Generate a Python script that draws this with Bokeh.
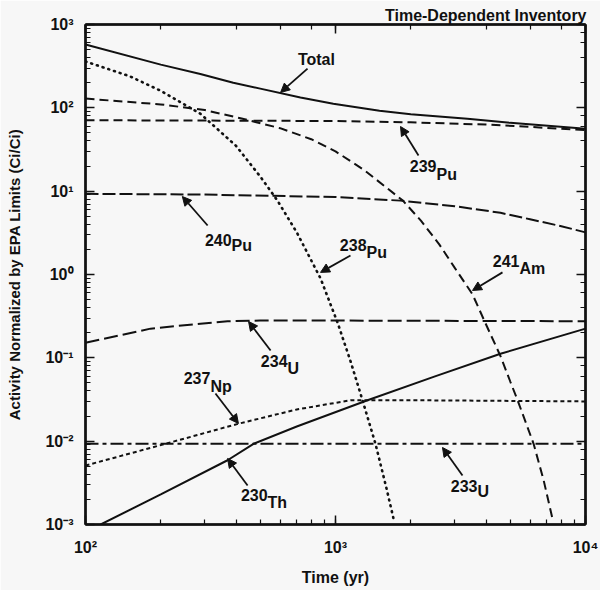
from bokeh.plotting import figure
from bokeh.models import LogAxis, Arrow, NormalHead, Label, CustomJSTickFormatter, Range1d
from bokeh.embed import file_html
from bokeh.resources import INLINE

# ---- data ----
total_t = [100, 200, 288, 390, 500, 724, 980, 1500, 2000, 3370, 5000, 10000]
total_v = [575, 330, 255, 200, 170, 133, 112, 92, 84, 74, 66, 56]

pu239_t = [100, 1000, 2000, 4000, 6000, 10000]
pu239_v = [71, 69.5, 67, 63, 59, 54]

am241_t = [100, 200, 300, 417, 600, 800, 1000, 1300, 1600, 1860, 2200, 2600, 3000, 3530, 3980, 4570, 5000, 5350, 6200, 6800, 7380]
am241_v = [129, 110, 94, 75, 57, 42, 30, 18, 11, 7.7, 4.4, 2.3, 1.2, 0.58, 0.26, 0.105, 0.052, 0.031, 0.0093, 0.0034, 0.00117]

pu238_t = [100, 150, 200, 288, 400, 500, 586, 700, 871, 1019, 1150, 1282, 1445, 1600, 1707]
pu238_v = [360, 240, 160, 85, 35, 15, 7.7, 3.2, 0.9, 0.265, 0.09, 0.031, 0.0093, 0.0027, 0.00117]

pu240_t = [100, 300, 1000, 1820, 3000, 4570, 6000, 8000, 10000]
pu240_v = [9.3, 9.1, 8.5, 7.7, 6.6, 5.5, 4.6, 3.8, 3.2]

u234_t = [100, 182, 288, 370, 500, 1000, 10000]
u234_v = [0.152, 0.224, 0.257, 0.275, 0.28, 0.28, 0.275]

np237_t = [100, 182, 409, 700, 1150, 2000, 10000]
np237_v = [0.0051, 0.0083, 0.0162, 0.024, 0.031, 0.031, 0.030]

u233_t = [100, 10000]
u233_v = [0.0093, 0.0093]

th230_t = [115, 200, 370, 470, 700, 1343, 2500, 4570, 10000]
th230_v = [0.001, 0.0023, 0.0059, 0.0093, 0.015, 0.031, 0.06, 0.112, 0.224]

FONT = "Liberation Sans"
INK = "#111111"
BG = "#f7f7f7"
FS = "16px"

p = figure(width=600, height=590, x_axis_type="log", y_axis_type="log",
           x_range=Range1d(100, 1e4), y_range=Range1d(1e-3, 1e3),
           output_backend="svg", toolbar_location=None,
           min_border_left=85, min_border_right=15, min_border_top=24, min_border_bottom=66)
p.background_fill_color = BG
p.border_fill_color = BG
p.outline_line_color = INK
p.outline_line_width = 2
p.xgrid.visible = False
p.ygrid.visible = False

p.title.text = "Time-Dependent Inventory"
p.title.align = "right"
p.title.text_font = FONT
p.title.text_font_style = "bold"
p.title.text_font_size = FS
p.title.text_color = INK
p.title.standoff = 1
p.title.offset = -1

fmt = CustomJSTickFormatter(code="""
const sup = {'0':'\u2070','1':'\u00b9','2':'\u00b2','3':'\u00b3','4':'\u2074','5':'\u2075','-':'\u207b'};
const e = Math.round(Math.log10(tick));
return '10' + String(e).split('').map(c => sup[c]).join('');
""")

p.add_layout(LogAxis(), "right")
p.add_layout(LogAxis(), "above")

for ax in p.axis:
    ax.axis_line_width = 2.5
    ax.axis_line_color = INK
    ax.major_tick_in = 9
    ax.major_tick_out = 0
    ax.minor_tick_in = 5
    ax.minor_tick_out = 0
    ax.major_tick_line_width = 1.5
    ax.minor_tick_line_width = 1.2
    ax.major_tick_line_color = INK
    ax.minor_tick_line_color = INK

for ax in p.right + p.above:
    ax.major_label_text_font_size = "1px"
    ax.major_label_text_color = None
    ax.major_label_standoff = 0

for ax in p.below + p.left:
    ax.formatter = fmt
    ax.major_label_text_font = FONT
    ax.major_label_text_font_style = "bold"
    ax.major_label_text_font_size = FS
    ax.major_label_text_color = INK
    ax.axis_label_text_font = FONT
    ax.axis_label_text_font_style = "bold"
    ax.axis_label_text_font_size = FS
    ax.axis_label_text_color = INK

xb = p.below[0]
yl = p.left[0]
xb.axis_label = "Time (yr)"
xb.major_label_standoff = 14
xb.axis_label_standoff = 10
yl.axis_label = "Activity Normalized by EPA Limits (Ci/Ci)"
yl.axis_label_text_font_size = "15px"
yl.major_label_standoff = 12
yl.axis_label_standoff = 19

lw = 2
p.line(total_t, total_v, line_color=INK, line_width=lw)
p.line(pu239_t, pu239_v, line_color=INK, line_width=lw, line_dash="9 5")
p.line(am241_t, am241_v, line_color=INK, line_width=lw, line_dash="9 5")
p.line(pu238_t, pu238_v, line_color=INK, line_width=2.6, line_dash="1 5", line_cap="round")
p.line(pu240_t, pu240_v, line_color=INK, line_width=lw, line_dash="13 4")
p.line(u234_t, u234_v, line_color=INK, line_width=lw, line_dash="14 5")
p.line(np237_t, np237_v, line_color=INK, line_width=lw, line_dash="4 3")
p.line(u233_t, u233_v, line_color=INK, line_width=lw, line_dash="13 4 4 4")
p.line(th230_t, th230_v, line_color=INK, line_width=lw)

# ---- annotations: (mass number, element, anchor x, number y, element y, arrow start, arrow end) ----
labels = [
    ("239", "Pu", 2535, 19.8, 15.8, (2148, 26.8), (1820, 59.7)),
    ("240", "Pu", 384, 2.63, 2.23, (308, 3.87), (244, 8.63)),
    ("238", "Pu", 1331, 2.23, 1.84, (1148, 1.69), (871, 1.06)),
    ("241", "Am", 5445, 1.47, 1.18, (4656, 1.06), (3532, 0.643)),
    ("234", "U", 643, 0.0904, 0.0745, (550, 0.1225), (449, 0.273)),
    ("237", "Np", 316, 0.0565, 0.0453, (331, 0.0373), (409, 0.0163)),
    ("230", "Th", 535, 0.00223, 0.00184, (445, 0.00294), (370, 0.0062)),
    ("233", "U", 3698, 0.00286, 0.00249, (3221, 0.00387), (2679, 0.0084)),
]
for num, el, ax_, ny, ey, a0, a1 in labels:
    p.add_layout(Label(x=ax_, y=ny, text=num, text_align="right", text_baseline="middle",
                       text_font=FONT, text_font_style="bold", text_font_size=FS, text_color=INK))
    p.add_layout(Label(x=ax_, y=ey, text=el, text_align="left", text_baseline="middle",
                       text_font=FONT, text_font_style="bold", text_font_size=FS, text_color=INK))
    p.add_layout(Arrow(x_start=a0[0], y_start=a0[1], x_end=a1[0], y_end=a1[1],
                       line_color=INK, line_width=1.8,
                       end=NormalHead(size=9, fill_color=INK, line_color=INK)))

p.add_layout(Label(x=839, y=380, text="Total", text_align="center", text_baseline="middle",
                   text_font=FONT, text_font_style="bold", text_font_size=FS, text_color=INK))
p.add_layout(Arrow(x_start=773, y_start=296, x_end=603, y_end=153, line_color=INK, line_width=1.8,
                   end=NormalHead(size=9, fill_color=INK, line_color=INK)))

open("out.html", "w").write(file_html(p, INLINE))
